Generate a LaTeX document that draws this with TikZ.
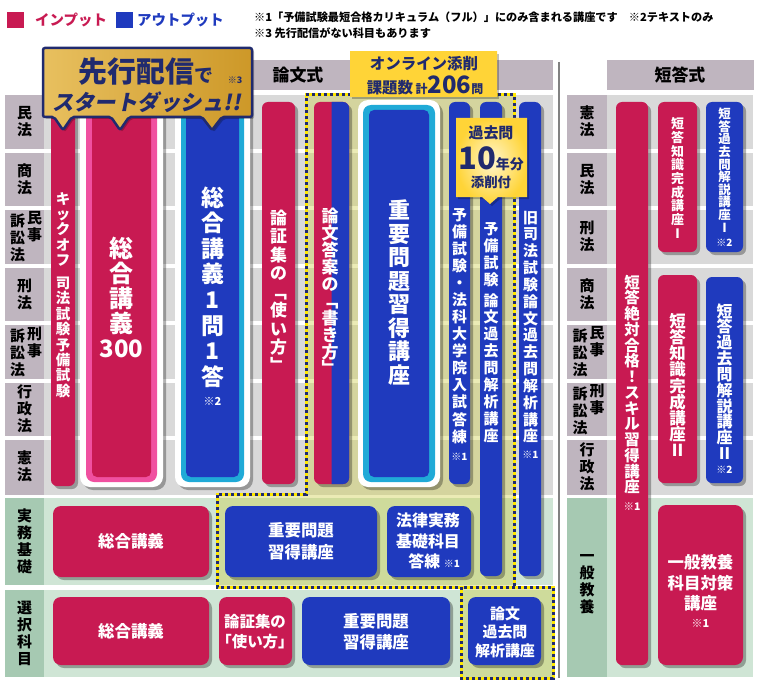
\documentclass[tikz,border=0pt]{standalone}
\usepackage{fontspec}
\setmainfont{Noto Sans CJK JP}
\usetikzlibrary{shadows}
\definecolor{InRed}{RGB}{200,26,82}
\definecolor{OutBlue}{RGB}{31,58,190}
\definecolor{Mauve}{RGB}{191,181,191}
\definecolor{RowGray}{RGB}{217,217,217}
\definecolor{LabelGreen}{RGB}{166,201,178}
\definecolor{RowGreen}{RGB}{207,229,213}
\definecolor{Navy}{RGB}{32,42,110}
\definecolor{GoldDark}{RGB}{205,152,40}
\definecolor{GoldMid}{RGB}{232,192,95}
\definecolor{GoldLight}{RGB}{255,246,205}
\definecolor{GoldYellow}{RGB}{255,212,55}
\definecolor{RingPink}{RGB}{240,80,160}
\definecolor{RingCyan}{RGB}{32,170,215}
\definecolor{DotYellow}{RGB}{255,232,0}
\definecolor{Tint}{RGB}{205,205,70}
\definecolor{Divider}{RGB}{130,130,130}
\newcommand{\jpfs}[2]{\fontsize{#1}{#2}\selectfont\bfseries\lineskiplimit=-20pt\relax}

\tikzset{
  bar/.style={rounded corners=6bp, drop shadow={shadow xshift=3bp, shadow yshift=-3bp, opacity=.3, fill=black}},
  inbar/.style={bar, fill=InRed},
  outbar/.style={bar, fill=OutBlue},
  wtext/.style={text=white, align=center, inner sep=0pt},
  ntext/.style={text=Navy, align=center, inner sep=0pt},
  lawlabel/.style={text=black, align=center, inner sep=0pt, font=\jpfs{15}{17}},
  tinted/.style={fill=Tint, fill opacity=.4},
  dotline/.style={draw=DotYellow, line width=3bp, postaction={draw=Navy, line width=3bp, dash pattern=on 3bp off 3bp}},
}

\begin{document}
\begin{tikzpicture}[x=1bp, y=-1bp]
\useasboundingbox (0,0) rectangle (761,686);

% legend and notes
\fill[InRed] (7,12) rectangle (24,28);
\node[anchor=west, inner sep=0pt, text=InRed, font=\jpfs{14.5}{15}] (legin) at (35,20) {インプット};
\fill[OutBlue] (116,12) rectangle (133,28);
\node[anchor=west, inner sep=0pt, text=OutBlue, font=\jpfs{14.5}{15}] (legout) at (137,20) {アウトプット};
\node[anchor=west, inner sep=0pt, font=\jpfs{11.2}{14}] (note1) at (254,17) {※1「予備試験最短合格カリキュラム（フル）」にのみ含まれる講座です\quad※2テキストのみ};
\node[anchor=west, inner sep=0pt, font=\jpfs{11.2}{14}] (note2) at (254,33) {※3 先行配信がない科目もあります};

% headers
\fill[Mauve] (44,60) rectangle (553,90);
\fill[Mauve] (607,60) rectangle (754,90);
\node[inner sep=0pt, font=\jpfs{17}{17}] (ronbunhead) at (298,75) {論文式};
\node[inner sep=0pt, font=\jpfs{17}{17}] (tantohead) at (680,75) {短答式};

% rows
\fill[RowGray] (44,95) rectangle (553,495);
\fill[Mauve] (5,95) rectangle (44,495);
\fill[RowGray] (607,95) rectangle (753,495);
\fill[Mauve] (567,95) rectangle (607,495);
\fill[RowGreen] (44,498) rectangle (553,585);
\fill[RowGreen] (44,590) rectangle (553,677);
\fill[LabelGreen] (5,498) rectangle (44,585);
\fill[LabelGreen] (5,590) rectangle (44,677);
\fill[RowGreen] (607,498) rectangle (753,677);
\fill[LabelGreen] (567,498) rectangle (607,677);
\foreach \y in {150.5,208,265.5,323,380.5,438}{
  \draw[white, line width=4bp] (5,\y) -- (553,\y);
  \draw[white, line width=4bp] (567,\y) -- (753,\y);
}

% subject labels
\node[lawlabel] (lminpo) at (24.5,121.75) {民\\法};
\node[lawlabel] (lshoho) at (24.5,179.25) {商\\法};
\node[lawlabel] (lminso) at (17.5,238) {訴\\訟\\法};
\node[lawlabel] (lminji) at (34.5,227) {民\\事};
\node[lawlabel] (lkeiho) at (24.5,294.25) {刑\\法};
\node[lawlabel] (lkeiso) at (17.5,353) {訴\\訟\\法};
\node[lawlabel] (lkeiji) at (34.5,342) {刑\\事};
\node[lawlabel] (lgyosei) at (24.5,409.25) {行\\政\\法};
\node[lawlabel] (lkenpo) at (24.5,466.75) {憲\\法};
\node[lawlabel] (ljitsumu) at (24.5,541.5) {実\\務\\基\\礎};
\node[lawlabel] (lsentaku) at (24.5,633.5) {選\\択\\科\\目};

\node[lawlabel] (rkenpo) at (587,121.75) {憲\\法};
\node[lawlabel] (rminpo) at (587,179.25) {民\\法};
\node[lawlabel] (rkeiho) at (587,236.75) {刑\\法};
\node[lawlabel] (rshoho) at (587,294.25) {商\\法};
\node[lawlabel] (rminso) at (580,353) {訴\\訟\\法};
\node[lawlabel] (rminji) at (597,342) {民\\事};
\node[lawlabel] (rkeiso) at (580,410.5) {訴\\訟\\法};
\node[lawlabel] (rkeiji) at (597,399.5) {刑\\事};
\node[lawlabel] (rgyosei) at (587,466.75) {行\\政\\法};
\node[lawlabel] (ripan) at (587,584) {一\\般\\教\\養};

% online tensaku areas
\fill[tinted] (306,95) -- (514,95) -- (514,587) -- (217,587) -- (217,494) -- (306,494) -- cycle;
\fill[tinted] (461,587) rectangle (553,678);

% ronbun bars
\fill[inbar] (51,102) rectangle (75,486);
\fill[white, bar, rounded corners=10bp] (80,100) rectangle (163,487);
\fill[RingPink, rounded corners=8bp] (86,105) rectangle (157,482);
\fill[InRed, rounded corners=5bp] (92,110) rectangle (151,477);
\fill[white, bar, rounded corners=10bp] (175,100) rectangle (250,487);
\fill[RingCyan, rounded corners=8bp] (181,105) rectangle (244,482);
\fill[OutBlue, rounded corners=5bp] (186,110) rectangle (239,477);
\fill[inbar] (262,102) rectangle (295,484);
\fill[inbar] (314,102) rectangle (349,484);
\begin{scope}
  \clip (331.5,95) rectangle (360,495);
  \fill[OutBlue, rounded corners=6bp] (314,102) rectangle (349,484);
\end{scope}
\fill[white, bar, rounded corners=10bp] (358,100) rectangle (440,487);
\fill[RingCyan, rounded corners=8bp] (363,105) rectangle (435,482);
\fill[OutBlue, rounded corners=5bp] (369,110) rectangle (429,477);
\fill[outbar] (449,102) rectangle (470,484);
\fill[outbar] (480,102) rectangle (502,576);
\fill[outbar] (519,102) rectangle (541,576);

% jitsumu and sentaku boxes
\fill[inbar, rounded corners=8bp] (53,506) rectangle (209,577);
\fill[outbar, rounded corners=8bp] (225,506) rectangle (377,577);
\fill[outbar, rounded corners=8bp] (387,506) rectangle (471,577);
\fill[inbar, rounded corners=8bp] (53,597) rectangle (209,665);
\fill[inbar, rounded corners=8bp] (219,597) rectangle (292,665);
\fill[outbar, rounded corners=8bp] (302,597) rectangle (450,665);
\fill[outbar, rounded corners=8bp] (468,597) rectangle (541,665);

% tanto bars
\fill[inbar] (616,102) rectangle (648,665);
\fill[inbar] (658,102) rectangle (697,252);
\fill[outbar] (706,102) rectangle (743,252);
\fill[inbar] (658,275) rectangle (697,483);
\fill[outbar] (706,277) rectangle (743,483);
\fill[inbar, rounded corners=8bp] (658,505) rectangle (743,665);

% course names
\node[wtext, font=\jpfs{14.5}{15.5}] (kickoff) at (63,295) {キ\\ッ\\ク\\オ\\フ\\[7bp]司\\法\\試\\験\\予\\備\\試\\験};
\node[wtext, font=\jpfs{24}{25.25}] (sogo300) at (121.5,297.5) {総\\合\\講\\義\\300};
\node[wtext, font=\jpfs{23}{25.7}] (ichimon) at (212.5,287) {総\\合\\講\\義\\1\\問\\1\\答};
\node[wtext, font=\jpfs{11}{11}] (ichimonnote) at (212.5,401) {※2};
\node[wtext, font=\jpfs{17}{18.5}] (tsukaikata) at (278.5,291) {論\\証\\集\\の\\﹁\\使\\い\\方\\﹂};
\node[wtext, font=\jpfs{17}{17}] (kakikata) at (330,291.5) {論\\文\\答\\案\\の\\﹁\\書\\き\\方\\﹂};
\node[wtext, font=\jpfs{22}{23.6}] (juyo) at (399,292.5) {重\\要\\問\\題\\習\\得\\講\\座};
\node[wtext, font=\jpfs{15}{17.1}] (yobitoren) at (459.5,326) {予\\備\\試\\験\\・\\法\\科\\大\\学\\院\\入\\試\\答\\練};
\node[wtext, font=\jpfs{10}{10}] (yobitorennote) at (459.5,457) {※1};
\node[wtext, font=\jpfs{15}{17}] (yobikako) at (491,332.5) {予\\備\\試\\験\\[4bp]論\\文\\過\\去\\問\\解\\析\\講\\座};
\node[wtext, font=\jpfs{15}{16.9}] (kyushiho) at (530.5,327) {旧\\司\\法\\試\\験\\論\\文\\過\\去\\問\\解\\析\\講\\座};
\node[wtext, font=\jpfs{10}{10}] (kyushihonote) at (530.5,455) {※1};

\node[wtext, font=\jpfs{16.5}{22}] (jsogo) at (131,541) {総合講義};
\node[wtext, font=\jpfs{16.5}{22}] (jjuyo) at (301,541) {重要問題\\習得講座};
\node[wtext, align=right, font=\jpfs{16}{21}] (jtoren) at (428,541) {法律実務\\基礎科目\\答練 {\jpfs{10}{10}※1}};
\node[wtext, font=\jpfs{16.5}{22}] (ssogo) at (131,631) {総合講義};
\node[wtext, font=\jpfs{15.5}{20}] (stsukai) at (255,632) {論証集の\\「使い方」};
\node[wtext, font=\jpfs{16.5}{21}] (sjuyo) at (376,632) {重要問題\\習得講座};
\node[wtext, font=\jpfs{15}{18.5}] (skako) at (505,632) {論文\\過去問\\解析講座};

\node[wtext, font=\jpfs{15.5}{15.8}] (skill) at (632,384.5) {短\\答\\絶\\対\\合\\格\\！\\ス\\キ\\ル\\習\\得\\講\\座};
\node[wtext, font=\jpfs{10.5}{10.5}] (skillnote) at (632,507) {※1};
\node[wtext, font=\jpfs{13}{13.75}] (chishiki1) at (677.5,178) {短\\答\\知\\識\\完\\成\\講\\座\\Ⅰ};
\node[wtext, font=\jpfs{12.5}{12.7}] (kaisetsu1) at (724.5,170) {短\\答\\過\\去\\問\\解\\説\\講\\座\\Ⅰ};
\node[wtext, font=\jpfs{10}{10}] (kaisetsu1note) at (724.5,243) {※2};
\node[wtext, font=\jpfs{16.5}{16.25}] (chishiki2) at (677.5,385) {短\\答\\知\\識\\完\\成\\講\\座\\Ⅱ};
\node[wtext, font=\jpfs{16}{15.9}] (kaisetsu2) at (724.5,381.5) {短\\答\\過\\去\\問\\解\\説\\講\\座\\Ⅱ};
\node[wtext, font=\jpfs{10}{10}] (kaisetsu2note) at (724.5,470) {※2};
\node[wtext, font=\jpfs{16.5}{20.5}] (ippan) at (700.5,583) {一般教養\\科目対策\\講座};
\node[wtext, font=\jpfs{11}{11}] (ippannote) at (700.5,623) {※1};

% dotted frames and divider
\draw[dotline] (306,95) -- (514,95) -- (514,587) -- (217,587) -- (217,494) -- (306,494) -- cycle;
\draw[dotline] (461,587) rectangle (553,678);
\draw[Divider, line width=2.5bp] (559,62) -- (559,678);

% badges
\path[draw=Navy, line width=2.5bp, rounded corners=2bp, left color=GoldMid, middle color=GoldLight, right color=GoldDark,
      drop shadow={shadow xshift=2bp, shadow yshift=-2bp, opacity=.25, fill=black}]
  (43,48) -- (252,48) -- (252,117) -- (222,117) -- (212,130) -- (202,117) -- (129,117) -- (120,130) -- (111,117)
  -- (72,117) -- (63,130) -- (54,117) -- (43,117) -- cycle;
\node[ntext] (senko) at (146,72) {\jpfs{29}{30}先行配信{\jpfs{19}{20}で}};
\node[ntext, font=\jpfs{9}{9}] (senkonote) at (235,80) {※3};
\node[ntext, xslant=0.2, font=\jpfs{21.5}{22}] (startdash) at (148,102) {スタートダッシュ!!};

\path[left color=GoldYellow, middle color=GoldLight, right color=GoldYellow,
      drop shadow={shadow xshift=2bp, shadow yshift=-2bp, opacity=.25, fill=black}] (350,52) rectangle (497,97);
\node[ntext, font=\jpfs{15.5}{16}] (online) at (424,64) {オンライン添削};
\node[ntext] (kadai) at (425,85) {\jpfs{15.5}{16}課題数\,{\jpfs{12}{12}計}{\jpfs{24}{24}206}{\jpfs{12}{12}問}};

\path[inner color=GoldLight, outer color=GoldYellow,
      drop shadow={shadow xshift=2bp, shadow yshift=-2bp, opacity=.25, fill=black}]
  (456,118) -- (527,118) -- (527,197) -- (498,197) -- (490,204) -- (482,197) -- (456,197) -- cycle;
\node[ntext, font=\jpfs{15}{16}] (kakomon) at (491,133) {過去問};
\node[ntext] (nenbun) at (491,159) {\jpfs{31}{31}10{\jpfs{14}{14}年分}};
\node[ntext, font=\jpfs{13.5}{14}] (tensaku) at (491,182) {添削付};
\end{tikzpicture}
\end{document}
